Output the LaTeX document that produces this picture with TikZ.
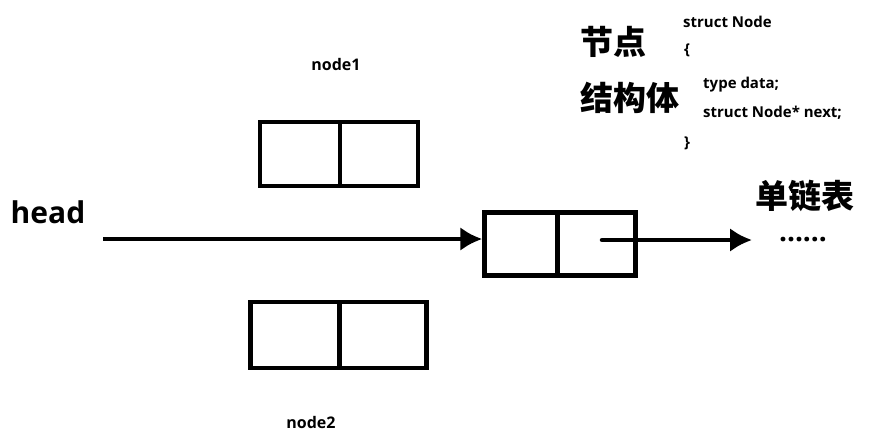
\documentclass[tikz,border=0pt]{standalone}
\usepackage{fontspec}
\setmainfont{Open Sans}
\newfontfamily\cjk{Noto Sans CJK SC}
\usetikzlibrary{positioning,arrows.meta}
\tikzset{
  cell/.style={draw, line width=4.5pt, minimum height=64pt, inner sep=0pt},
  link/.style={line width=4.5pt, -{Latex[length=22pt,width=24pt]}},
  code/.style={anchor=west, font=\fontsize{15}{17}\selectfont\bfseries, inner sep=0pt},
  big/.style={font=\cjk\fontsize{33}{35}\selectfont\bfseries},
}
\begin{document}
\begin{tikzpicture}[x=1pt,y=-1pt]
  \useasboundingbox (0,0) rectangle (877,434);

  % node1
  \node[cell, minimum width=80pt] (n1a) at (300,154) {};
  \node[cell, minimum width=78pt, right=-4.5pt of n1a] (n1b) {};
  \node[font=\fontsize{16}{18}\selectfont\bfseries] (lab1) at (336,64) {node1};

  % middle node
  \node[cell, minimum width=73pt, minimum height=63pt] (mida) at (521,244) {};
  \node[cell, minimum width=78pt, minimum height=63pt, right=-4.5pt of mida] (midb) {};

  % node2
  \node[cell, minimum width=89pt, minimum height=66pt] (n2a) at (295,335) {};
  \node[cell, minimum width=87pt, minimum height=66pt, right=-4.5pt of n2a] (n2b) {};
  \node[font=\fontsize{16}{18}\selectfont\bfseries] (lab2) at (311,422) {node2};

  % head pointer
  \node[font=\fontsize{30}{32}\selectfont\bfseries] (head) at (48,212) {head};
  \coordinate (hs) at (103,239);
  \draw[link] (hs) -- (mida.west |- hs);

  % next pointer
  \coordinate (ns) at (602,240);
  \coordinate (ne) at (752,240);
  \draw[link, line cap=round] (ns) -- (ne);
  \node[font=\fontsize{28}{30}\selectfont\bfseries] (dots) at (803,240) {......};

  % labels
  \node[big] (jd) at (613,42) {节点};
  \node[big] (jgt) at (630,98) {结构体};
  \node[big] (dlb) at (805,196) {单链表};

  % struct code
  \node[code] (c1) at (683,22) {struct Node};
  \node[code] (c2) at (684,50) {\{};
  \node[code] (c3) at (703,85) {type data;};
  \node[code] (c4) at (703,113) {struct Node* next;};
  \node[code] (c5) at (684,143) {\}};
\end{tikzpicture}
\end{document}
